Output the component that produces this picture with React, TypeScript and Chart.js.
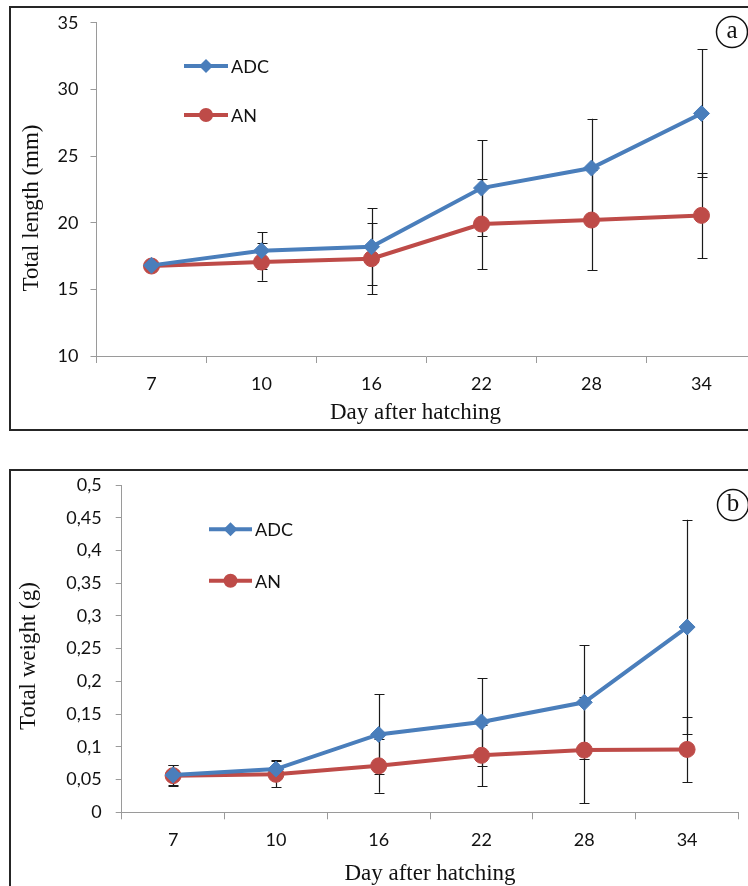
import React, { useEffect, useRef } from 'react';
import { Chart, registerables } from 'chart.js';

Chart.register(...registerables);

// ---------- data ----------
const days = ['7', '10', '16', '22', '28', '34'];
const seriesNames = ['ADC', 'AN'];

const adcLength = [16.8, 17.9, 18.2, 22.6, 24.1, 28.2];
const anLength = [16.75, 17.05, 17.3, 19.9, 20.2, 20.55];
const adcLengthErr = [0, 1.4, 2.9, 3.6, 3.7, 4.8];
const anLengthErr = [0, 1.4, 2.65, 3.4, 3.75, 3.2];

const adcWeight = [0.057, 0.066, 0.119, 0.138, 0.168, 0.283];
const anWeight = [0.056, 0.058, 0.071, 0.087, 0.095, 0.096];
const adcWeightErr = [0.015, 0.014, 0.061, 0.067, 0.087, 0.164];
const anWeightErr = [0.016, 0.02, 0.041, 0.047, 0.081, 0.05];

const lengthTickLabels = ['10', '15', '20', '25', '30', '35'];
const weightTickLabels = ['0', '0,05', '0,1', '0,15', '0,2', '0,25', '0,3', '0,35', '0,4', '0,45', '0,5'];

const lengthTitle = 'Total length (mm)';
const weightTitle = 'Total weight (g)';
const xTitle = 'Day after hatching';

// ---------- style ----------
const BLUE = '#4A7EBB';
const RED = '#BE4B48';
const AXIS = '#9A9A9A';
const SANS = 'Lato, "Open Sans", sans-serif';
const SERIF = '"Liberation Serif", "Times New Roman", serif';

const errorBarPlugin = {
  id: 'errorBars',
  beforeDatasetsDraw(chart: any, _args: any, opts: any) {
    const ctx = chart.ctx;
    const y = chart.scales.y;
    ctx.save();
    ctx.strokeStyle = '#1a1a1a';
    ctx.lineWidth = 1.2;
    chart.data.datasets.forEach((ds: any, i: number) => {
      const meta = chart.getDatasetMeta(i);
      const errs = opts.errors[i] || [];
      meta.data.forEach((pt: any, j: number) => {
        const e = errs[j];
        if (!e) return;
        const v = ds.data[j];
        const yt = y.getPixelForValue(v + e);
        const yb = y.getPixelForValue(v - e);
        const x = Math.round(pt.x) + 0.5;
        const cap = 5;
        ctx.beginPath();
        ctx.moveTo(x, yt);
        ctx.lineTo(x, yb);
        ctx.moveTo(x - cap, Math.round(yt) + 0.5);
        ctx.lineTo(x + cap, Math.round(yt) + 0.5);
        ctx.moveTo(x - cap, Math.round(yb) + 0.5);
        ctx.lineTo(x + cap, Math.round(yb) + 0.5);
        ctx.stroke();
      });
    });
    ctx.restore();
  },
};

const decorPlugin = {
  id: 'decor',
  afterDraw(chart: any, _args: any, o: any) {
    const ctx = chart.ctx;
    ctx.save();
    // axis titles
    ctx.fillStyle = '#111';
    ctx.font = `23px ${SERIF}`;
    ctx.textAlign = 'center';
    ctx.textBaseline = 'middle';
    ctx.fillText(o.xTitle, o.xTitleX, o.xTitleY);
    ctx.save();
    ctx.translate(o.yTitleX, o.yTitleY);
    ctx.rotate(-Math.PI / 2);
    ctx.fillText(o.yTitle, 0, 0);
    ctx.restore();
    // badge
    ctx.beginPath();
    ctx.lineWidth = 1.5;
    ctx.strokeStyle = '#111';
    ctx.arc(o.badgeX, o.badgeY, 15.5, 0, Math.PI * 2);
    ctx.stroke();
    ctx.font = `25px ${SERIF}`;
    ctx.fillText(o.badge, o.badgeX, o.badgeY - 1);
    // legend
    const items = [
      { name: seriesNames[0], color: BLUE, shape: 'diamond', y: o.legY1 },
      { name: seriesNames[1], color: RED, shape: 'circle', y: o.legY2 },
    ];
    items.forEach((it) => {
      ctx.strokeStyle = it.color;
      ctx.fillStyle = it.color;
      ctx.lineWidth = 4;
      ctx.beginPath();
      ctx.moveTo(o.legX1, it.y);
      ctx.lineTo(o.legX2, it.y);
      ctx.stroke();
      const cx = (o.legX1 + o.legX2) / 2;
      ctx.beginPath();
      if (it.shape === 'diamond') {
        const r = 7;
        ctx.moveTo(cx - r, it.y);
        ctx.lineTo(cx, it.y - r);
        ctx.lineTo(cx + r, it.y);
        ctx.lineTo(cx, it.y + r);
        ctx.closePath();
      } else {
        ctx.arc(cx, it.y, 7, 0, Math.PI * 2);
      }
      ctx.fill();
      ctx.fillStyle = '#111';
      ctx.font = `18px ${SANS}`;
      ctx.textAlign = 'left';
      ctx.textBaseline = 'middle';
      ctx.fillText(it.name, o.legX2 + 3, it.y + 1);
    });
    ctx.restore();
  },
};

function makeConfig(p: any) {
  return {
    type: 'line',
    data: {
      labels: days,
      datasets: [
        {
          label: seriesNames[0],
          data: p.adc,
          borderColor: BLUE,
          backgroundColor: BLUE,
          borderWidth: 4,
          pointStyle: 'rectRot',
          pointRadius: 8,
          pointBorderWidth: 1,
          pointBackgroundColor: BLUE,
          pointBorderColor: BLUE,
          tension: 0,
        },
        {
          label: seriesNames[1],
          data: p.an,
          borderColor: RED,
          backgroundColor: RED,
          borderWidth: 4,
          pointStyle: 'circle',
          pointRadius: 8,
          pointBorderWidth: 1,
          pointBackgroundColor: RED,
          pointBorderColor: RED,
          tension: 0,
        },
      ],
    },
    options: {
      responsive: false,
      animation: false,
      devicePixelRatio: 1,
      layout: { padding: p.padding },
      plugins: {
        legend: { display: false },
        tooltip: { enabled: false },
        errorBars: { errors: [p.adcErr, p.anErr] },
        decor: p.decor,
      },
      scales: {
        x: {
          type: 'category',
          offset: true,
          grid: {
            offset: true,
            drawOnChartArea: false,
            color: AXIS,
            tickLength: 7,
          },
          border: { color: AXIS, width: 1 },
          ticks: { color: '#111', font: { family: SANS, size: 18 }, padding: 10, maxRotation: 0 },
          afterFit: (s: any) => { s.height = p.xAxisHeight; },
        },
        y: {
          min: p.min,
          max: p.max,
          grid: { drawOnChartArea: false, color: AXIS, tickLength: 6 },
          border: { color: AXIS, width: 1 },
          ticks: {
            stepSize: p.step,
            color: '#111',
            font: { family: SANS, size: 18 },
            padding: p.yPad,
            callback: (_v: any, i: number) => p.tickLabels[i],
          },
          afterFit: (s: any) => { s.width = p.yAxisWidth; },
        },
      },
    },
    plugins: [errorBarPlugin, decorPlugin],
  };
}

function ChartCanvas(props: { cfg: any; w: number; h: number; top: number }) {
  const ref = useRef<HTMLCanvasElement | null>(null);
  useEffect(() => {
    if (!ref.current) return;
    const chart = new Chart(ref.current, props.cfg);
    return () => chart.destroy();
  }, []);
  return (
    <canvas
      ref={ref}
      width={props.w}
      height={props.h}
      style={{ position: 'absolute', left: 0, top: props.top, width: props.w, height: props.h, display: 'block' }}
    />
  );
}

export default function App() {
  const cfgA = makeConfig({
    adc: adcLength,
    an: anLength,
    adcErr: adcLengthErr,
    anErr: anLengthErr,
    min: 10,
    max: 35,
    step: 5,
    tickLabels: lengthTickLabels,
    yPad: 12,
    padding: { left: 0, right: 23.5, top: 19.3, bottom: 24 },
    xAxisHeight: 60,
    yAxisWidth: 96.5,
    decor: {
      xTitle, xTitleX: 415.5, xTitleY: 413,
      yTitle: lengthTitle, yTitleX: 31.5, yTitleY: 208,
      badge: 'a', badgeX: 732, badgeY: 32,
      legX1: 184, legX2: 228, legY1: 66, legY2: 115,
    },
  });
  const cfgB = makeConfig({
    adc: adcWeight,
    an: anWeight,
    adcErr: adcWeightErr,
    anErr: anWeightErr,
    min: 0,
    max: 0.5,
    step: 0.05,
    tickLabels: weightTickLabels,
    yPad: 14,
    padding: { left: 0, right: 41.5, top: 25, bottom: 13.7 },
    xAxisHeight: 60,
    yAxisWidth: 121.7,
    decor: {
      xTitle, xTitleX: 430, xTitleY: 414,
      yTitle: weightTitle, yTitleX: 28.6, yTitleY: 196,
      badge: 'b', badgeX: 733, badgeY: 45,
      legX1: 209, legX2: 252, legY1: 69.3, legY2: 120.7,
    },
  });
  return (
    <div style={{ position: 'absolute', left: 0, top: 0, width: 748, height: 886, overflow: 'hidden', background: '#fff' }}>
      <div style={{ position: 'absolute', left: 9, top: 6, width: 800, height: 425, border: '2px solid #262626', boxSizing: 'border-box' }} />
      <div style={{ position: 'absolute', left: 9, top: 469, width: 800, height: 500, border: '2px solid #262626', boxSizing: 'border-box' }} />
      <ChartCanvas cfg={cfgA} w={780} h={440} top={0} />
      <ChartCanvas cfg={cfgB} w={780} h={426} top={460} />
    </div>
  );
}
